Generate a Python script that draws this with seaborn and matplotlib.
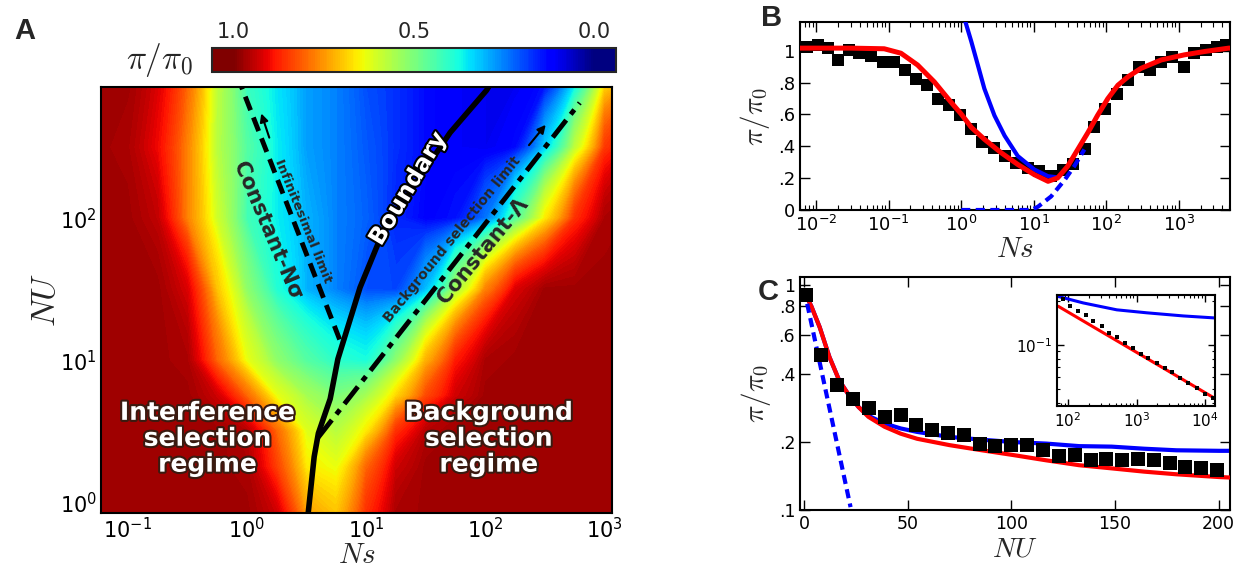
import numpy as np
import matplotlib
matplotlib.use('Agg')
import matplotlib.pyplot as plt
import matplotlib.patheffects as pe
from matplotlib.cm import ScalarMappable
from matplotlib.colors import Normalize
from matplotlib.ticker import FixedLocator, FixedFormatter, NullLocator, NullFormatter
import seaborn as sns

sns.set_style('ticks')
plt.rcParams['font.family'] = ['DejaVu Sans']
plt.rcParams['mathtext.fontset'] = 'dejavusans'

# ---- panel A: pi/pi0 over (Ns, NU)
ns_grid = [0.056, 0.1, 0.178, 0.316, 0.562, 1.0, 1.78, 3.16, 5.62, 10, 17.8, 31.6,
           56.2, 100, 178, 316, 562, 1000, 1780]
nu_grid = [0.83, 1.78, 3.16, 5.62, 10, 31.6, 100, 316, 851]
pi_grid = [
    [0.97, 0.97, 0.97, 0.97, 0.97, 0.97, 0.93, 0.74, 0.70, 0.86, 0.96, 0.97, 0.97, 0.97, 0.97, 0.97, 0.97, 0.97, 0.97],
    [0.97, 0.97, 0.97, 0.97, 0.97, 0.96, 0.84, 0.66, 0.63, 0.80, 0.93, 0.97, 0.97, 0.97, 0.97, 0.97, 0.97, 0.97, 0.97],
    [0.97, 0.97, 0.97, 0.97, 0.97, 0.95, 0.80, 0.62, 0.57, 0.66, 0.86, 0.95, 0.97, 0.97, 0.97, 0.97, 0.97, 0.97, 0.97],
    [0.97, 0.97, 0.97, 0.97, 0.93, 0.80, 0.63, 0.55, 0.50, 0.55, 0.68, 0.83, 0.93, 0.97, 0.97, 0.97, 0.97, 0.97, 0.97],
    [0.97, 0.97, 0.97, 0.96, 0.80, 0.63, 0.52, 0.45, 0.40, 0.38, 0.52, 0.72, 0.88, 0.96, 0.97, 0.97, 0.97, 0.97, 0.97],
    [0.97, 0.97, 0.97, 0.92, 0.70, 0.52, 0.39, 0.30, 0.25, 0.20, 0.19, 0.31, 0.55, 0.77, 0.92, 0.97, 0.97, 0.97, 0.97],
    [0.97, 0.97, 0.94, 0.77, 0.60, 0.43, 0.36, 0.30, 0.25, 0.22, 0.16, 0.12, 0.14, 0.24, 0.45, 0.66, 0.86, 0.96, 0.97],
    [0.97, 0.96, 0.90, 0.77, 0.57, 0.45, 0.36, 0.28, 0.25, 0.21, 0.17, 0.13, 0.11, 0.10, 0.13, 0.33, 0.58, 0.85, 0.93],
    [0.97, 0.97, 0.92, 0.80, 0.58, 0.42, 0.35, 0.28, 0.25, 0.20, 0.17, 0.13, 0.11, 0.10, 0.10, 0.14, 0.36, 0.68, 0.80],
]

boundary_ns = [3.27, 3.67, 3.98, 5.0, 5.8, 8.9, 13.9, 26.7, 50.6, 102, 108]
boundary_nu = [0.84, 2.09, 3.06, 5.35, 10.2, 32.6, 81, 181, 401, 795, 860]
nsigma_ns = [6.0, 0.88]
nsigma_nu = [14, 890]
lambda_ns = [3.98, 617]
lambda_nu = [2.87, 650]

# ---- panel B: pi/pi0 vs Ns
b_sim_ns = [0.0074, 0.0105, 0.0145, 0.0203, 0.0288, 0.0396, 0.0574, 0.0831, 0.118, 0.169,
            0.239, 0.340, 0.486, 0.690, 0.979, 1.37, 1.95, 2.83, 4.05, 5.74, 8.31,
            12.0, 17.4, 25.3, 34.7, 50.3, 69.0, 96.9, 142, 199, 282, 396, 574, 805,
            1178, 1652, 2393, 3396, 4520]
b_sim_pi = [1.02, 1.037, 1.016, 0.942, 1.005, 0.984, 0.969, 0.927, 0.927, 0.878, 0.825,
            0.787, 0.698, 0.660, 0.597, 0.508, 0.428, 0.392, 0.339, 0.296, 0.265,
            0.243, 0.212, 0.254, 0.286, 0.381, 0.519, 0.635, 0.730, 0.815, 0.899,
            0.878, 0.931, 0.963, 0.899, 0.984, 1.005, 1.026, 1.037]
b_theory_ns = [0.0056, 0.0105, 0.030, 0.087, 0.148, 0.251, 0.427, 0.724, 1.0, 1.38,
               2.09, 3.55, 6.03, 10.2, 15.8, 21.4, 29.5, 40.7, 56.2, 75.9, 105, 145,
               200, 302, 575, 1202, 2291, 4898, 5600]
b_theory_pi = [1.016, 1.016, 1.016, 1.012, 0.984, 0.910, 0.804, 0.677, 0.603, 0.519,
               0.444, 0.360, 0.286, 0.222, 0.180, 0.201, 0.275, 0.381, 0.487, 0.593,
               0.698, 0.783, 0.836, 0.889, 0.942, 0.974, 0.995, 1.016, 1.016]
b_interf_ns = [1.0, 1.12, 1.38, 1.70, 2.09, 2.88, 3.98, 6.03, 10.2, 15.8, 21.4]
b_interf_pi = [1.35, 1.196, 1.058, 0.910, 0.762, 0.593, 0.466, 0.339, 0.254, 0.212, 0.205]
b_bgsel_ns = [1.0, 9.3, 11.5, 17.4, 26.9, 36.3, 50.1]
b_bgsel_pi = [0.0, 0.0, 0.021, 0.085, 0.19, 0.275, 0.38]

# ---- panel C: pi/pi0 vs NU
c_sim_nu = [0.7, 8.3, 15.9, 23.6, 31.2, 38.9, 46.5, 54.1, 61.8, 69.4, 77.1, 84.7, 92.3,
            100.0, 107.6, 115.3, 122.9, 130.5, 138.2, 145.8, 153.5, 161.1, 168.7,
            176.4, 184.0, 191.7, 199.3]
c_sim_pi = [0.90, 0.485, 0.357, 0.312, 0.284, 0.259, 0.263, 0.238, 0.226, 0.220, 0.215,
            0.197, 0.192, 0.195, 0.195, 0.184, 0.173, 0.175, 0.166, 0.168, 0.166,
            0.169, 0.166, 0.162, 0.155, 0.153, 0.150]
c_theory_nu = [0, 3.5, 7.5, 12.2, 16.9, 21.6, 26.3, 31, 38.8, 46.6, 54.5, 70.1, 85.8,
               101.4, 117, 132.7, 148.4, 164, 179.7, 200.3, 208]
c_theory_pi = [0.93, 0.80, 0.647, 0.477, 0.376, 0.323, 0.286, 0.259, 0.234, 0.218,
               0.207, 0.194, 0.184, 0.175, 0.166, 0.158, 0.153, 0.148, 0.144, 0.140, 0.139]
c_interf_nu = [0, 3.5, 7.5, 12.2, 16.9, 21.6, 26.3, 31, 38.8, 46.6, 54.5, 70.1, 85.8,
               101.4, 117, 132.7, 148.4, 164, 179.7, 200.3, 208]
c_interf_pi = [0.93, 0.80, 0.647, 0.477, 0.376, 0.323, 0.286, 0.262, 0.242, 0.230,
               0.222, 0.211, 0.205, 0.200, 0.197, 0.192, 0.191, 0.187, 0.184, 0.183, 0.183]
c_bgsel_nu = [0, 22.4]
c_bgsel_pi = [0.95, 0.103]

# inset of C (log-log)
i_sim_nu = [85, 107, 141, 183, 234, 310, 401, 515, 679, 899, 1150, 1490, 1960, 2600,
            3250, 4340, 5740, 7600, 10000, 13200]
i_sim_pi = [0.207, 0.186, 0.170, 0.161, 0.145, 0.134, 0.120, 0.113, 0.103, 0.0949,
            0.0867, 0.0809, 0.0748, 0.0691, 0.0655, 0.0589, 0.0544, 0.0503, 0.0459, 0.0429]
i_interf_nu = [72, 167, 515, 1410, 4800, 14000]
i_interf_pi = [0.215, 0.194, 0.174, 0.166, 0.158, 0.153]
i_theory_nu = [72, 14000]
i_theory_pi = [0.184, 0.0428]

W, H = 1233, 569
fig = plt.figure(figsize=(W / 100, H / 100), dpi=100)


def rect(x0, y0, x1, y1):
    return [x0 / W, 1 - y1 / H, (x1 - x0) / W, (y1 - y0) / H]


def inward(ax, size):
    ax.tick_params(which='both', direction='in', top=True, right=True,
                   labelsize=size, colors='k')
    ax.tick_params(which='major', length=7, width=1)
    ax.tick_params(which='minor', length=3.5, width=0.8)
    for s in ax.spines.values():
        s.set_linewidth(1.5)
        s.set_color('k')


# ================= A
axA = fig.add_axes(rect(101, 87, 612, 513))
X, Y = np.meshgrid(ns_grid, nu_grid)
mesh = axA.contourf(X, Y, np.array(pi_grid), levels=np.linspace(0, 1, 121),
                    cmap='jet', vmin=0, vmax=1)
mesh.set_rasterized(True)
axA.set_xscale('log')
axA.set_yscale('log')
axA.set_xlim(0.06, 1150)
axA.set_ylim(0.84, 840)
inward(axA, 15)
axA.tick_params(which='major', pad=3)

sns.lineplot(x=boundary_ns, y=boundary_nu, ax=axA, color='k', lw=4,
             estimator=None, sort=False)
sns.lineplot(x=nsigma_ns, y=nsigma_nu, ax=axA, color='k', lw=3.5,
             estimator=None, sort=False, linestyle=(0, (3, 1.6)))
sns.lineplot(x=lambda_ns, y=lambda_nu, ax=axA, color='k', lw=3.5,
             estimator=None, sort=False, linestyle=(0, (4.5, 1.5, 1.2, 1.5)))

axA.annotate('', xy=(1.30, 571), xytext=(1.57, 354),
             arrowprops=dict(arrowstyle='-|>', color='k', lw=1.5, mutation_scale=12))
axA.annotate('', xy=(331, 471), xytext=(224, 316),
             arrowprops=dict(arrowstyle='-|>', color='k', lw=1.5, mutation_scale=12))

axA.text(2.95, 95, 'Infinitesimal limit', rotation=-68, fontsize=9.5,
         fontweight='bold', ha='center', va='center', rotation_mode='anchor')
axA.text(1.48, 81, 'Constant-Nσ', rotation=-67, fontsize=15,
         fontweight='bold', ha='center', va='center', rotation_mode='anchor')
axA.text(22.4, 162, 'Boundary', rotation=59, fontsize=17, fontweight='bold',
         color='white', ha='center', va='center', rotation_mode='anchor',
         path_effects=[pe.withStroke(linewidth=3, foreground='k')])
axA.text(52.5, 71, 'Background selection limit', rotation=51, fontsize=10,
         fontweight='bold', ha='center', va='center', rotation_mode='anchor')
axA.text(96, 59, 'Constant-Λ', rotation=50.5, fontsize=15, fontweight='bold',
         ha='center', va='center', rotation_mode='anchor')
outline = [pe.withStroke(linewidth=3, foreground='#3a1a10')]
axA.text(0.47, 2.8, 'Interference\nselection\nregime', fontsize=18,
         fontweight='bold', color='white', ha='center', va='center',
         linespacing=1.1, path_effects=outline)
axA.text(107, 2.8, 'Background\nselection\nregime', fontsize=18,
         fontweight='bold', color='white', ha='center', va='center',
         linespacing=1.1, path_effects=outline)
axA.set_xlabel(r'$Ns$', fontsize=21, math_fontfamily='cm', labelpad=-1)
axA.set_ylabel(r'$NU$', fontsize=24, math_fontfamily='cm', labelpad=-2)

# colour bar (1.0 on the left, 0.0 on the right)
cax = fig.add_axes(rect(212, 48, 616, 72))
cb = fig.colorbar(ScalarMappable(norm=Normalize(0, 1), cmap='jet'), cax=cax,
                  orientation='horizontal', boundaries=np.linspace(-0.06, 1.06, 225))
cax.invert_xaxis()
cb.set_ticks([1.0, 0.5, 0.0])
cb.set_ticklabels(['1.0', '0.5', '0.0'])
cax.xaxis.set_ticks_position('top')
cax.tick_params(direction='in', length=12, width=1, labelsize=15, pad=4)
cb.outline.set_linewidth(1.5)
fig.text(160 / W, 1 - 60 / H, r'$\pi/\pi_0$', fontsize=24, math_fontfamily='cm',
         ha='center', va='center')

# ================= B
axB = fig.add_axes(rect(800, 22, 1230, 210))
axB.set_xscale('log')
sns.scatterplot(x=b_sim_ns, y=b_sim_pi, ax=axB, marker='s', s=70, color='k',
                linewidth=0, zorder=2)
sns.lineplot(x=b_interf_ns, y=b_interf_pi, ax=axB, color='#0000ff', lw=3,
             estimator=None, sort=False, zorder=3)
sns.lineplot(x=b_bgsel_ns, y=b_bgsel_pi, ax=axB, color='#0000ff', lw=3,
             estimator=None, sort=False, linestyle=(0, (2.2, 1.3)), zorder=3)
sns.lineplot(x=b_theory_ns, y=b_theory_pi, ax=axB, color='#ff0000', lw=3.6,
             estimator=None, sort=False, zorder=4)
axB.set_xlim(0.006, 5100)
axB.set_ylim(0, 1.18)
axB.yaxis.set_major_locator(FixedLocator([0, 0.2, 0.4, 0.6, 0.8, 1.0]))
axB.yaxis.set_major_formatter(FixedFormatter(['0', '.2', '.4', '.6', '.8', '1']))
inward(axB, 13)
axB.set_xlabel(r'$Ns$', fontsize=21, math_fontfamily='cm', labelpad=0)
axB.set_ylabel(r'$\pi/\pi_0$', fontsize=21, math_fontfamily='cm', labelpad=4)

# ================= C
axC = fig.add_axes(rect(800, 277, 1230, 510))
axC.set_yscale('log')
sns.lineplot(x=c_interf_nu, y=c_interf_pi, ax=axC, color='#0000ff', lw=3,
             estimator=None, sort=False, zorder=2)
sns.lineplot(x=c_theory_nu, y=c_theory_pi, ax=axC, color='#ff0000', lw=3,
             estimator=None, sort=False, zorder=3)
sns.lineplot(x=c_bgsel_nu, y=c_bgsel_pi, ax=axC, color='#0000ff', lw=3,
             estimator=None, sort=False, linestyle=(0, (2.2, 1.3)), zorder=3)
sns.scatterplot(x=c_sim_nu, y=c_sim_pi, ax=axC, marker='s', s=90, color='k',
                linewidth=0, zorder=4)
axC.set_xlim(-2, 205.5)
axC.set_ylim(0.1, 1.08)
axC.xaxis.set_major_locator(FixedLocator([0, 50, 100, 150, 200]))
axC.yaxis.set_major_locator(FixedLocator([0.1, 0.2, 0.4, 0.6, 0.8, 1.0]))
axC.yaxis.set_major_formatter(FixedFormatter(['.1', '.2', '.4', '.6', '.8', '1']))
axC.yaxis.set_minor_locator(NullLocator())
inward(axC, 12.5)
axC.set_xlabel(r'$NU$', fontsize=20, math_fontfamily='cm', labelpad=1)
axC.set_ylabel(r'$\pi/\pi_0$', fontsize=21, math_fontfamily='cm', labelpad=4)

axI = fig.add_axes(rect(1057, 295, 1215, 406))
axI.set_xscale('log')
axI.set_yscale('log')
sns.lineplot(x=i_interf_nu, y=i_interf_pi, ax=axI, color='#0000ff', lw=2.2,
             estimator=None, sort=False)
sns.lineplot(x=i_theory_nu, y=i_theory_pi, ax=axI, color='#ff0000', lw=2.2,
             estimator=None, sort=False)
sns.scatterplot(x=i_sim_nu, y=i_sim_pi, ax=axI, marker='s', s=12, color='k',
                linewidth=0, zorder=4)
axI.set_xlim(69, 14000)
axI.set_ylim(0.038, 0.22)
axI.yaxis.set_minor_formatter(NullFormatter())
axI.xaxis.set_minor_formatter(NullFormatter())
inward(axI, 11)
axI.tick_params(which='major', length=5)
axI.tick_params(which='minor', length=2.5)

# panel letters
for letter, x, y in [('A', 25, 31), ('B', 772, 18), ('C', 768, 292)]:
    fig.text(x / W, 1 - y / H, letter, fontsize=21, fontweight='bold',
             family='Liberation Sans', ha='center', va='center')

fig.savefig('out.png', dpi=100)
